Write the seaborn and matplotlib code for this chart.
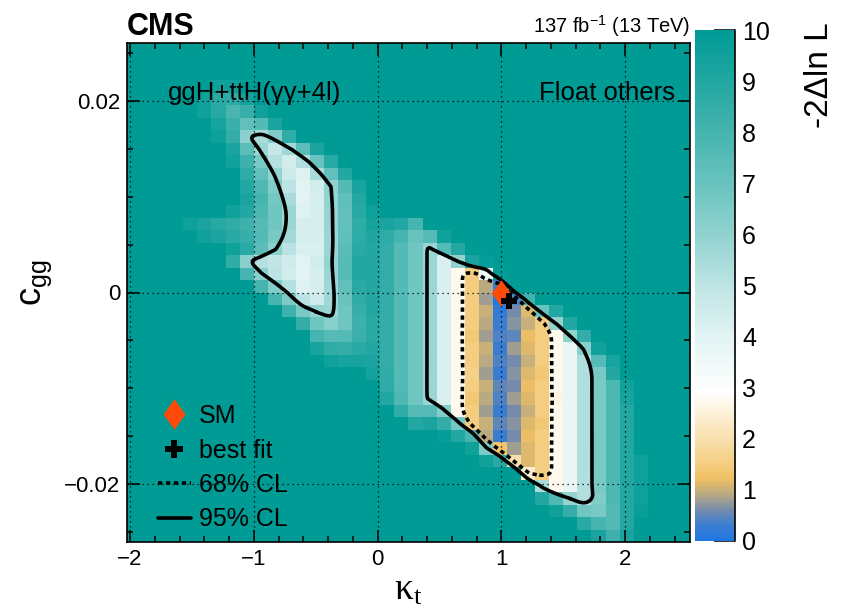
import numpy as np
import pandas as pd
import matplotlib
matplotlib.use("Agg")
import matplotlib.pyplot as plt
from matplotlib.colors import LinearSegmentedColormap
from matplotlib.lines import Line2D
from matplotlib.ticker import MultipleLocator, FuncFormatter
from contourpy import contour_generator
import seaborn as sns

# ---------------------------------------------------------------------------
# 2D likelihood scan of (kappa_t, c_gg); bin edges of the scan grid
# ---------------------------------------------------------------------------
kt_range = (-2.025, 2.525)
cgg_range = (-0.026, 0.026)
n_kt, n_cgg = 40, 40
dnll_ceiling = 10.0   # top of the palette; cells not listed below sit there

# -2 Delta lnL per c_gg row, top row (largest c_gg) first:
# row -> (first kappa_t column, values of consecutive columns)
dnll_rows = {
    3: (6, [9.5, 9.6]),
    4: (5, [9.5, 8.8, 8.7, 9.4]),
    5: (5, [9.6, 8.9, 7.9, 8.4, 9.5]),
    6: (6, [9.3, 8.3, 7.2, 7.6, 9.2]),
    7: (6, [9.6, 8.5, 6.1, 5.5, 6.4, 8.6]),
    8: (7, [9.2, 7.4, 5.8, 4.8, 5.7, 7.4, 9.2]),
    9: (7, [9.5, 8.2, 6.6, 5.2, 4.4, 5.3, 7.0, 8.8]),
    10: (8, [8.7, 7.2, 5.9, 4.6, 4.1, 5.5, 7.2, 9.0]),
    11: (8, [9.0, 7.7, 6.4, 5.0, 4.0, 4.4, 6.0, 7.6, 9.3]),
    12: (8, [9.2, 8.0, 6.7, 5.5, 4.0, 4.3, 5.9, 7.3, 9.0]),
    13: (7, [9.5, 9.0, 7.8, 6.8, 5.8, 4.1, 4.3, 5.85, 7.2, 8.8, 9.6]),
    14: (4, [9.6, 9.2, 8.9, 8.6, 8.2, 7.5, 6.8, 5.8, 4.3, 4.3, 5.85, 7.2, 8.6,
             9.4, 9.2, 9.0, 8.0]),
    15: (5, [9.5, 9.2, 8.8, 8.4, 7.6, 6.6, 5.6, 4.3, 4.3, 5.8, 7.3, 8.7, 9.1,
             8.6, 8.0, 7.0, 7.5, 9.5]),
    16: (7, [9.5, 8.8, 7.4, 6.1, 5.1, 4.2, 4.2, 5.8, 7.4, 8.8, 9.0, 8.5, 7.6,
             6.8, 5.8, 7.5, 9.0]),
    17: (7, [8.6, 6.2, 5.2, 4.9, 4.5, 4.0, 4.4, 5.9, 7.5, 9.0, 9.0, 8.5, 7.6,
             6.8, 5.8, 4.2, 6.0, 9.2, 9.8]),
    18: (8, [8.0, 6.1, 5.0, 4.4, 4.0, 4.3, 5.8, 7.5, 9.0, 9.0, 8.5, 7.6, 6.8,
             5.8, 4.2, 2.7, 1.5, 3.5, 9.9]),
    19: (9, [8.0, 6.4, 5.2, 4.1, 4.3, 5.7, 7.2, 8.8, 9.0, 8.5, 7.6, 6.8, 5.8,
             4.2, 2.7, 1.5, 0.9, 0.3, 9.9]),
    20: (10, [8.0, 6.5, 5.0, 4.5, 5.7, 7.0, 8.6, 9.0, 8.5, 7.6, 6.8, 5.8, 4.2,
              2.7, 1.5, 0.8, 0.05, 0.4, 8.1]),
    21: (11, [8.2, 6.6, 5.9, 5.8, 6.8, 8.4, 9.0, 8.5, 7.6, 6.8, 5.8, 4.2, 2.7,
              1.5, 1.0, 0.2, 0.6, 1.1, 7.0, 9.0]),
    22: (12, [8.5, 6.8, 6.2, 6.8, 8.2, 8.8, 8.5, 7.6, 6.8, 5.8, 4.2, 2.7, 1.5,
              0.9, 0.3, 0.7, 1.0, 1.5, 6.0, 9.0]),
    23: (13, [8.0, 7.5, 7.6, 8.3, 8.8, 8.5, 7.6, 6.8, 5.8, 4.2, 2.7, 1.4, 0.8,
              0.4, 0.5, 1.2, 1.5, 2.7, 6.0, 8.5]),
    24: (13, [9.3, 8.6, 8.5, 8.8, 9.0, 8.5, 7.6, 6.8, 5.8, 4.2, 2.7, 1.5, 1.0,
              0.3, 0.8, 1.1, 1.5, 2.7, 3.7, 6.2, 9.5]),
    25: (14, [9.5, 9.3, 9.3, 9.2, 8.5, 7.6, 6.8, 5.8, 4.2, 2.7, 1.5, 0.9, 0.4,
              0.6, 1.0, 1.5, 2.7, 3.7, 5.3, 7.5, 9.3]),
    26: (17, [9.4, 8.6, 7.6, 6.8, 5.8, 4.2, 2.7, 1.6, 0.8, 0.3, 0.7, 1.1, 1.4,
              2.7, 3.7, 5.3, 6.6, 9.0]),
    27: (18, [8.7, 7.6, 6.8, 5.8, 4.2, 2.7, 1.5, 1.0, 0.5, 0.6, 1.2, 1.5, 2.7,
              3.7, 5.3, 6.6, 7.8, 9.5]),
    28: (18, [9.0, 7.8, 6.8, 5.8, 4.2, 2.7, 1.4, 0.9, 0.4, 0.8, 1.1, 1.5, 2.6,
              3.7, 5.3, 6.6, 7.8, 9.3]),
    29: (19, [8.6, 7.5, 7.5, 6.3, 2.7, 1.5, 0.8, 0.3, 0.6, 1.0, 1.5, 2.7, 3.7,
              5.3, 6.6, 7.8, 9.0]),
    30: (20, [9.0, 9.2, 8.5, 6.7, 1.5, 1.0, 0.5, 0.7, 1.1, 1.4, 2.7, 3.7, 5.3,
              6.6, 7.8, 9.0]),
    31: (22, [9.8, 9.0, 7.9, 0.9, 0.3, 0.6, 1.2, 1.5, 2.7, 3.7, 5.3, 6.6, 7.8,
              9.0]),
    32: (24, [9.5, 6.5, 1.3, 0.8, 1.1, 1.5, 2.7, 3.7, 5.3, 6.6, 7.8, 9.0]),
    33: (25, [9.5, 8.8, 2.0, 1.1, 1.5, 2.7, 3.7, 5.3, 6.6, 7.8, 9.0, 9.6]),
    34: (28, [2.4, 1.5, 2.7, 3.7, 5.3, 6.6, 7.8, 9.0, 9.6]),
    35: (29, [5.5, 2.7, 3.7, 5.3, 6.6, 7.8, 9.0, 9.6]),
    36: (29, [9.0, 7.7, 5.9, 5.3, 6.4, 7.8, 9.0, 9.6]),
    37: (30, [9.5, 8.5, 6.8, 6.6, 7.6, 9.0, 9.7]),
    38: (32, [8.8, 8.0, 7.6, 9.0]),
    39: (33, [9.2, 8.2, 9.3]),
}

sm_point = {"kt": [1.0], "cgg": [0.0]}
best_fit = {"kt": [1.06], "cgg": [-0.0009]}
cl_levels = {"68% CL": 2.30, "95% CL": 5.99}

# palette anchors: -2 Delta lnL -> RGB
palette_values = [0.0, 0.3, 0.6, 0.9, 1.2, 1.6, 2.2, 2.9, 4.0, 5.0, 6.0,
                  7.0, 8.0, 9.0, 10.0]
palette_rgb = [(30, 120, 225), (60, 125, 210), (120, 140, 170), (185, 170, 130),
               (240, 192, 100), (245, 210, 140), (250, 230, 190), (255, 255, 255),
               (225, 243, 243), (190, 228, 228), (145, 210, 207), (105, 195, 190),
               (70, 180, 175), (35, 167, 162), (0, 155, 149)]

sm_color = "#ff4a0a"
dot_style = (0, (1.2, 1.0))

# ---------------------------------------------------------------------------
# assemble the scan table
# ---------------------------------------------------------------------------
kt_step = (kt_range[1] - kt_range[0]) / n_kt
cgg_step = (cgg_range[1] - cgg_range[0]) / n_cgg
kt_centres = kt_range[0] + kt_step * (np.arange(n_kt) + 0.5)
cgg_centres = cgg_range[1] - cgg_step * (np.arange(n_cgg) + 0.5)   # top row first

grid = np.full((n_cgg, n_kt), dnll_ceiling)
for row, (col0, vals) in dnll_rows.items():
    grid[row, col0:col0 + len(vals)] = vals

KT, CGG = np.meshgrid(kt_centres, cgg_centres)
scan = pd.DataFrame({"kt": KT.ravel(), "cgg": CGG.ravel(), "dnll": grid.ravel()})

cmap = LinearSegmentedColormap.from_list(
    "dnll",
    [(v / dnll_ceiling, tuple(c / 255 for c in rgb))
     for v, rgb in zip(palette_values, palette_rgb)],
)


def chaikin_closed(pts, n_iter=3):
    """Corner-cutting smoothing of a closed polyline."""
    p = pts[:-1] if np.allclose(pts[0], pts[-1]) else pts
    for _ in range(n_iter):
        nxt = np.roll(p, -1, axis=0)
        q = 0.75 * p + 0.25 * nxt
        r = 0.25 * p + 0.75 * nxt
        p = np.empty((2 * len(q), 2))
        p[0::2] = q
        p[1::2] = r
    return np.vstack([p, p[:1]])


# ---------------------------------------------------------------------------
# figure
# ---------------------------------------------------------------------------
sns.set_theme(style="ticks")
plt.rcParams.update({
    "font.family": ["Liberation Sans", "DejaVu Sans"],
    "axes.unicode_minus": True,
    "text.color": "black",
    "axes.labelcolor": "black",
    "axes.edgecolor": "black",
    "xtick.color": "black",
    "ytick.color": "black",
})

fig = plt.figure(figsize=(8.44, 6.10), dpi=100)
W, H = 844, 610
ax = fig.add_axes([127 / W, 68 / H, 563 / W, 499 / H])

sns.histplot(data=scan, x="kt", y="cgg", weights="dnll",
             bins=(n_kt, n_cgg), binrange=(kt_range, cgg_range),
             thresh=None, cmap=cmap, vmin=0, vmax=dnll_ceiling, ax=ax)
mesh = ax.collections[0]
mesh.set_clim(0, dnll_ceiling)

# confidence contours traced on the same grid
gen = contour_generator(kt_centres, cgg_centres[::-1], grid[::-1])
for name, style in (("68% CL", dot_style), ("95% CL", "-")):
    for seg in gen.lines(cl_levels[name]):
        sm = chaikin_closed(np.asarray(seg))
        ax.plot(sm[:, 0], sm[:, 1], color="black", lw=2.6, ls=style,
                zorder=4, solid_joinstyle="round")

diamond = [(0, 1), (0.72, 0), (0, -1), (-0.72, 0), (0, 1)]
sns.scatterplot(x=sm_point["kt"], y=sm_point["cgg"], marker=diamond, s=19 ** 2,
                color=sm_color, linewidth=0, zorder=6, ax=ax, legend=False)
sns.scatterplot(x=best_fit["kt"], y=best_fit["cgg"], marker="P", s=12 ** 2,
                color="black", linewidth=0, zorder=7, ax=ax, legend=False)

ax.set_xlim(kt_range)
ax.set_ylim(cgg_range)


def fmt_num(v, _pos):
    if abs(v) < 1e-12:
        return "0"
    return f"{v:g}".replace("-", "\u2212")


ax.xaxis.set_major_locator(MultipleLocator(1))
ax.xaxis.set_minor_locator(MultipleLocator(0.2))
ax.yaxis.set_major_locator(MultipleLocator(0.02))
ax.yaxis.set_minor_locator(MultipleLocator(0.005))
ax.xaxis.set_major_formatter(FuncFormatter(fmt_num))
ax.yaxis.set_major_formatter(FuncFormatter(fmt_num))
ax.tick_params(which="both", direction="in", top=True, right=True,
               bottom=True, left=True, width=1.1)
ax.tick_params(which="major", length=9, labelsize=16, pad=5)
ax.tick_params(which="minor", length=4.5)

ax.set_axisbelow(False)
ax.grid(True, which="major", color="black", linestyle=(0, (1, 3)), linewidth=0.9)
for sp in ax.spines.values():
    sp.set_visible(True)
    sp.set_linewidth(1.2)
    sp.set_color("black")
    sp.set_zorder(8)

ax.set_xlabel(r"$\mathregular{\kappa_t}$", fontsize=27,
              fontfamily=["Liberation Serif", "DejaVu Serif"])
ax.xaxis.set_label_coords(0.5, -0.062)
ax.set_ylabel(r"$\mathregular{c_{gg}}$", fontsize=26)
ax.yaxis.set_label_coords(-0.13, 0.52)

ax.text(0.0728, 0.90, "ggH+ttH(\u03b3\u03b3+4l)", transform=ax.transAxes,
        fontsize=18.5, ha="left", va="center", zorder=9)
ax.text(0.9734, 0.90, "Float others", transform=ax.transAxes,
        fontsize=18.5, ha="right", va="center", zorder=9)

handles = [
    Line2D([], [], marker=diamond, color=sm_color, ls="none", markersize=22,
           markeredgewidth=0),
    Line2D([], [], marker="P", color="black", ls="none", markersize=13,
           markeredgewidth=0),
    Line2D([], [], color="black", lw=2.6, ls=dot_style),
    Line2D([], [], color="black", lw=2.6),
]
labels = ["SM", "best fit", "68% CL", "95% CL"]
ax.legend(handles, labels, loc="upper left",
          bbox_to_anchor=(158 / W, 1 - 404 / H), bbox_transform=fig.transFigure,
          frameon=False, fontsize=18, handlelength=1.3, handletextpad=0.35,
          labelspacing=0.42, borderpad=0, borderaxespad=0)

# colour scale
cax = fig.add_axes([695 / W, 69 / H, 40 / W, 511 / H])
cbar = fig.colorbar(mesh, cax=cax, ticks=range(0, 11))
cbar.outline.set_visible(False)
cax.tick_params(which="major", direction="in", length=15, width=1.1,
                labelsize=18, pad=5, right=True, left=False)
cax.tick_params(which="minor", length=0)
cax.add_line(Line2D([1, 1], [0, 1], transform=cax.transAxes, color="black",
                    lw=1.2, clip_on=False))
fig.text(820 / W, 1 - 22 / H, "-2\u0394ln L", rotation=90, ha="center",
         va="top", fontsize=24)

fig.text(127 / W, 1 - 35 / H, "CMS", fontsize=22, fontweight="bold",
         ha="left", va="baseline")
fig.text(690 / W, 1 - 33 / H, r"137 fb$^{\mathregular{-1}}$ (13 TeV)",
         fontsize=14.5, ha="right", va="baseline")

fig.savefig("out.png", dpi=100)
